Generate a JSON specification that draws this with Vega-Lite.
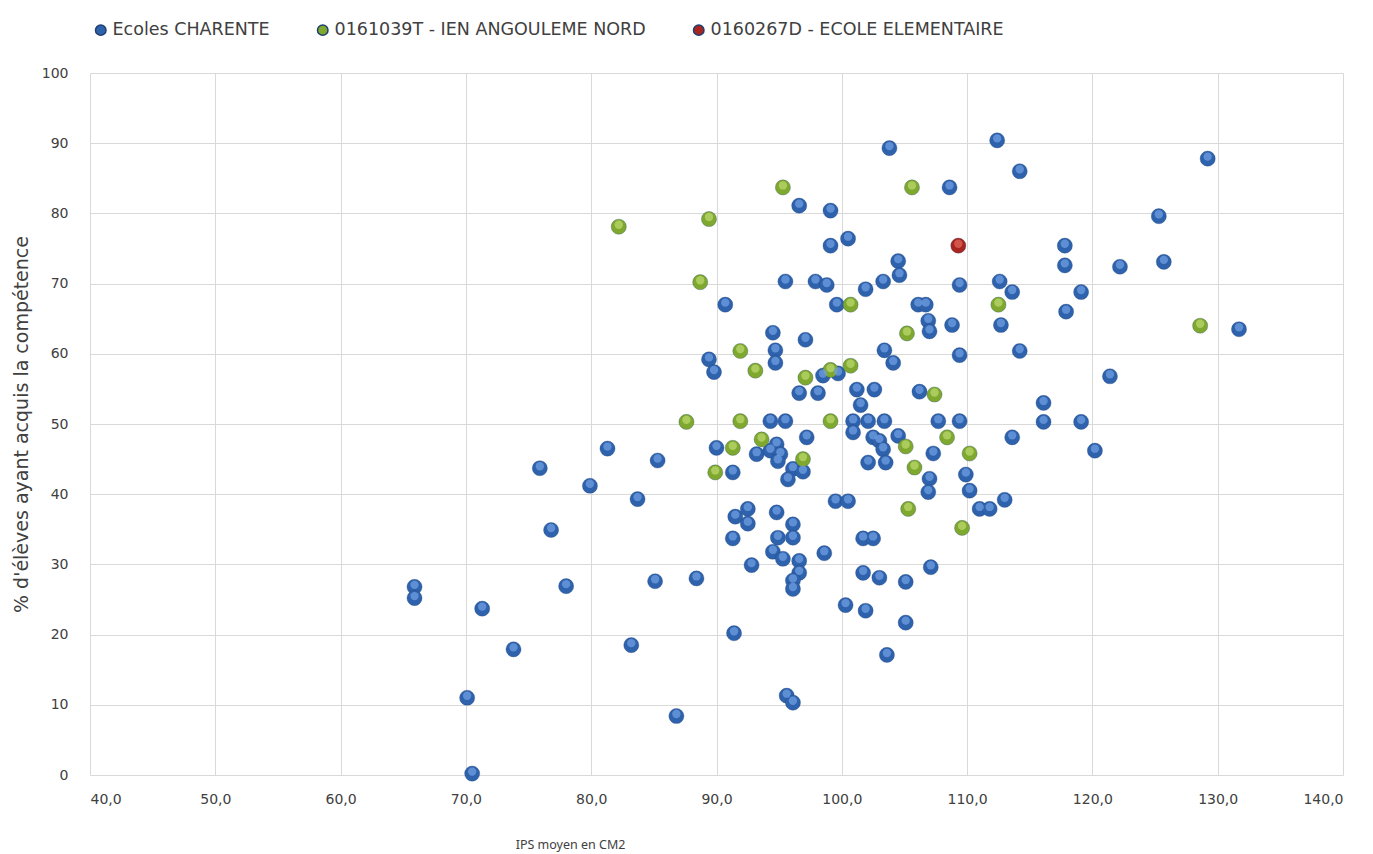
{
  "$schema": "https://vega.github.io/schema/vega-lite/v6.json",
  "background": "#ffffff",
  "autosize": "none",
  "padding": {"left": 90, "top": 73, "right": 30, "bottom": 79},
  "width": 1253,
  "height": 702,
  "data": {
    "values": [
      {"ips": 65.9, "pct": 26.8, "serie": "Ecoles CHARENTE"},
      {"ips": 65.9, "pct": 25.2, "serie": "Ecoles CHARENTE"},
      {"ips": 70.1, "pct": 11.0, "serie": "Ecoles CHARENTE"},
      {"ips": 70.5, "pct": 0.2, "serie": "Ecoles CHARENTE"},
      {"ips": 71.3, "pct": 23.7, "serie": "Ecoles CHARENTE"},
      {"ips": 73.8, "pct": 17.9, "serie": "Ecoles CHARENTE"},
      {"ips": 75.9, "pct": 43.7, "serie": "Ecoles CHARENTE"},
      {"ips": 76.8, "pct": 34.9, "serie": "Ecoles CHARENTE"},
      {"ips": 78.0, "pct": 26.9, "serie": "Ecoles CHARENTE"},
      {"ips": 79.9, "pct": 41.2, "serie": "Ecoles CHARENTE"},
      {"ips": 81.3, "pct": 46.5, "serie": "Ecoles CHARENTE"},
      {"ips": 83.2, "pct": 18.5, "serie": "Ecoles CHARENTE"},
      {"ips": 83.7, "pct": 39.3, "serie": "Ecoles CHARENTE"},
      {"ips": 85.3, "pct": 44.8, "serie": "Ecoles CHARENTE"},
      {"ips": 85.1, "pct": 27.6, "serie": "Ecoles CHARENTE"},
      {"ips": 86.8, "pct": 8.4, "serie": "Ecoles CHARENTE"},
      {"ips": 88.4, "pct": 28.0, "serie": "Ecoles CHARENTE"},
      {"ips": 89.4, "pct": 59.2, "serie": "Ecoles CHARENTE"},
      {"ips": 89.8, "pct": 57.4, "serie": "Ecoles CHARENTE"},
      {"ips": 90.0, "pct": 46.6, "serie": "Ecoles CHARENTE"},
      {"ips": 91.3, "pct": 43.1, "serie": "Ecoles CHARENTE"},
      {"ips": 90.7, "pct": 67.0, "serie": "Ecoles CHARENTE"},
      {"ips": 91.5, "pct": 36.8, "serie": "Ecoles CHARENTE"},
      {"ips": 92.5, "pct": 37.9, "serie": "Ecoles CHARENTE"},
      {"ips": 92.5, "pct": 35.8, "serie": "Ecoles CHARENTE"},
      {"ips": 91.3, "pct": 33.7, "serie": "Ecoles CHARENTE"},
      {"ips": 92.8, "pct": 29.9, "serie": "Ecoles CHARENTE"},
      {"ips": 91.4, "pct": 20.2, "serie": "Ecoles CHARENTE"},
      {"ips": 93.2, "pct": 45.7, "serie": "Ecoles CHARENTE"},
      {"ips": 94.3, "pct": 46.2, "serie": "Ecoles CHARENTE"},
      {"ips": 94.8, "pct": 47.1, "serie": "Ecoles CHARENTE"},
      {"ips": 95.1, "pct": 45.7, "serie": "Ecoles CHARENTE"},
      {"ips": 94.9, "pct": 44.7, "serie": "Ecoles CHARENTE"},
      {"ips": 94.3, "pct": 50.4, "serie": "Ecoles CHARENTE"},
      {"ips": 95.5, "pct": 50.4, "serie": "Ecoles CHARENTE"},
      {"ips": 97.2, "pct": 48.1, "serie": "Ecoles CHARENTE"},
      {"ips": 94.5, "pct": 63.0, "serie": "Ecoles CHARENTE"},
      {"ips": 94.7, "pct": 60.5, "serie": "Ecoles CHARENTE"},
      {"ips": 94.7, "pct": 58.7, "serie": "Ecoles CHARENTE"},
      {"ips": 97.1, "pct": 62.0, "serie": "Ecoles CHARENTE"},
      {"ips": 95.5, "pct": 70.3, "serie": "Ecoles CHARENTE"},
      {"ips": 97.9, "pct": 70.3, "serie": "Ecoles CHARENTE"},
      {"ips": 98.8, "pct": 69.8, "serie": "Ecoles CHARENTE"},
      {"ips": 101.9, "pct": 69.2, "serie": "Ecoles CHARENTE"},
      {"ips": 103.3, "pct": 70.3, "serie": "Ecoles CHARENTE"},
      {"ips": 96.6, "pct": 81.1, "serie": "Ecoles CHARENTE"},
      {"ips": 99.1, "pct": 80.4, "serie": "Ecoles CHARENTE"},
      {"ips": 99.1, "pct": 75.4, "serie": "Ecoles CHARENTE"},
      {"ips": 100.5, "pct": 76.4, "serie": "Ecoles CHARENTE"},
      {"ips": 103.8, "pct": 89.3, "serie": "Ecoles CHARENTE"},
      {"ips": 108.6, "pct": 83.7, "serie": "Ecoles CHARENTE"},
      {"ips": 104.5, "pct": 73.2, "serie": "Ecoles CHARENTE"},
      {"ips": 104.6, "pct": 71.2, "serie": "Ecoles CHARENTE"},
      {"ips": 99.6, "pct": 67.0, "serie": "Ecoles CHARENTE"},
      {"ips": 106.1, "pct": 67.0, "serie": "Ecoles CHARENTE"},
      {"ips": 106.7, "pct": 67.0, "serie": "Ecoles CHARENTE"},
      {"ips": 106.9, "pct": 64.7, "serie": "Ecoles CHARENTE"},
      {"ips": 107.0, "pct": 63.2, "serie": "Ecoles CHARENTE"},
      {"ips": 108.8, "pct": 64.1, "serie": "Ecoles CHARENTE"},
      {"ips": 109.4, "pct": 69.8, "serie": "Ecoles CHARENTE"},
      {"ips": 112.6, "pct": 70.3, "serie": "Ecoles CHARENTE"},
      {"ips": 113.6, "pct": 68.8, "serie": "Ecoles CHARENTE"},
      {"ips": 112.7, "pct": 64.1, "serie": "Ecoles CHARENTE"},
      {"ips": 103.4, "pct": 60.5, "serie": "Ecoles CHARENTE"},
      {"ips": 104.1, "pct": 58.7, "serie": "Ecoles CHARENTE"},
      {"ips": 109.4, "pct": 59.8, "serie": "Ecoles CHARENTE"},
      {"ips": 98.5, "pct": 56.9, "serie": "Ecoles CHARENTE"},
      {"ips": 99.7, "pct": 57.2, "serie": "Ecoles CHARENTE"},
      {"ips": 96.6, "pct": 54.4, "serie": "Ecoles CHARENTE"},
      {"ips": 98.1, "pct": 54.4, "serie": "Ecoles CHARENTE"},
      {"ips": 101.2, "pct": 54.9, "serie": "Ecoles CHARENTE"},
      {"ips": 102.6, "pct": 54.9, "serie": "Ecoles CHARENTE"},
      {"ips": 106.2, "pct": 54.6, "serie": "Ecoles CHARENTE"},
      {"ips": 101.5, "pct": 52.7, "serie": "Ecoles CHARENTE"},
      {"ips": 100.9, "pct": 50.4, "serie": "Ecoles CHARENTE"},
      {"ips": 102.1, "pct": 50.4, "serie": "Ecoles CHARENTE"},
      {"ips": 103.4, "pct": 50.4, "serie": "Ecoles CHARENTE"},
      {"ips": 100.9, "pct": 48.8, "serie": "Ecoles CHARENTE"},
      {"ips": 107.7, "pct": 50.4, "serie": "Ecoles CHARENTE"},
      {"ips": 109.4, "pct": 50.4, "serie": "Ecoles CHARENTE"},
      {"ips": 102.5, "pct": 48.1, "serie": "Ecoles CHARENTE"},
      {"ips": 103.0, "pct": 47.6, "serie": "Ecoles CHARENTE"},
      {"ips": 103.3, "pct": 46.4, "serie": "Ecoles CHARENTE"},
      {"ips": 104.5, "pct": 48.3, "serie": "Ecoles CHARENTE"},
      {"ips": 107.3, "pct": 45.8, "serie": "Ecoles CHARENTE"},
      {"ips": 102.1, "pct": 44.5, "serie": "Ecoles CHARENTE"},
      {"ips": 103.5, "pct": 44.5, "serie": "Ecoles CHARENTE"},
      {"ips": 96.1, "pct": 43.6, "serie": "Ecoles CHARENTE"},
      {"ips": 96.9, "pct": 43.2, "serie": "Ecoles CHARENTE"},
      {"ips": 95.7, "pct": 42.1, "serie": "Ecoles CHARENTE"},
      {"ips": 107.0, "pct": 42.2, "serie": "Ecoles CHARENTE"},
      {"ips": 106.9, "pct": 40.3, "serie": "Ecoles CHARENTE"},
      {"ips": 109.9, "pct": 42.8, "serie": "Ecoles CHARENTE"},
      {"ips": 110.2, "pct": 40.5, "serie": "Ecoles CHARENTE"},
      {"ips": 99.5, "pct": 39.0, "serie": "Ecoles CHARENTE"},
      {"ips": 100.5, "pct": 39.0, "serie": "Ecoles CHARENTE"},
      {"ips": 111.0, "pct": 37.9, "serie": "Ecoles CHARENTE"},
      {"ips": 111.8, "pct": 37.9, "serie": "Ecoles CHARENTE"},
      {"ips": 113.0, "pct": 39.2, "serie": "Ecoles CHARENTE"},
      {"ips": 94.8, "pct": 37.4, "serie": "Ecoles CHARENTE"},
      {"ips": 96.1, "pct": 35.7, "serie": "Ecoles CHARENTE"},
      {"ips": 94.9, "pct": 33.8, "serie": "Ecoles CHARENTE"},
      {"ips": 96.1, "pct": 33.8, "serie": "Ecoles CHARENTE"},
      {"ips": 94.5, "pct": 31.8, "serie": "Ecoles CHARENTE"},
      {"ips": 95.3, "pct": 30.8, "serie": "Ecoles CHARENTE"},
      {"ips": 96.6, "pct": 30.5, "serie": "Ecoles CHARENTE"},
      {"ips": 98.6, "pct": 31.6, "serie": "Ecoles CHARENTE"},
      {"ips": 101.7, "pct": 33.7, "serie": "Ecoles CHARENTE"},
      {"ips": 102.5, "pct": 33.7, "serie": "Ecoles CHARENTE"},
      {"ips": 96.6, "pct": 28.8, "serie": "Ecoles CHARENTE"},
      {"ips": 96.1, "pct": 27.7, "serie": "Ecoles CHARENTE"},
      {"ips": 96.1, "pct": 26.5, "serie": "Ecoles CHARENTE"},
      {"ips": 101.7, "pct": 28.8, "serie": "Ecoles CHARENTE"},
      {"ips": 103.0, "pct": 28.1, "serie": "Ecoles CHARENTE"},
      {"ips": 105.1, "pct": 27.5, "serie": "Ecoles CHARENTE"},
      {"ips": 107.1, "pct": 29.6, "serie": "Ecoles CHARENTE"},
      {"ips": 100.3, "pct": 24.2, "serie": "Ecoles CHARENTE"},
      {"ips": 101.9, "pct": 23.4, "serie": "Ecoles CHARENTE"},
      {"ips": 105.1, "pct": 21.7, "serie": "Ecoles CHARENTE"},
      {"ips": 103.6, "pct": 17.1, "serie": "Ecoles CHARENTE"},
      {"ips": 95.6, "pct": 11.3, "serie": "Ecoles CHARENTE"},
      {"ips": 96.1, "pct": 10.3, "serie": "Ecoles CHARENTE"},
      {"ips": 112.4, "pct": 90.4, "serie": "Ecoles CHARENTE"},
      {"ips": 114.2, "pct": 86.0, "serie": "Ecoles CHARENTE"},
      {"ips": 129.2, "pct": 87.8, "serie": "Ecoles CHARENTE"},
      {"ips": 125.3, "pct": 79.6, "serie": "Ecoles CHARENTE"},
      {"ips": 117.8, "pct": 75.4, "serie": "Ecoles CHARENTE"},
      {"ips": 117.8, "pct": 72.6, "serie": "Ecoles CHARENTE"},
      {"ips": 122.2, "pct": 72.4, "serie": "Ecoles CHARENTE"},
      {"ips": 125.7, "pct": 73.1, "serie": "Ecoles CHARENTE"},
      {"ips": 119.1, "pct": 68.8, "serie": "Ecoles CHARENTE"},
      {"ips": 117.9, "pct": 66.0, "serie": "Ecoles CHARENTE"},
      {"ips": 131.7, "pct": 63.5, "serie": "Ecoles CHARENTE"},
      {"ips": 114.2, "pct": 60.4, "serie": "Ecoles CHARENTE"},
      {"ips": 121.4, "pct": 56.8, "serie": "Ecoles CHARENTE"},
      {"ips": 116.1, "pct": 53.0, "serie": "Ecoles CHARENTE"},
      {"ips": 116.1, "pct": 50.3, "serie": "Ecoles CHARENTE"},
      {"ips": 119.1, "pct": 50.3, "serie": "Ecoles CHARENTE"},
      {"ips": 113.6, "pct": 48.1, "serie": "Ecoles CHARENTE"},
      {"ips": 120.2, "pct": 46.2, "serie": "Ecoles CHARENTE"},
      {"ips": 82.2, "pct": 78.1, "serie": "0161039T - IEN ANGOULEME NORD"},
      {"ips": 89.4, "pct": 79.2, "serie": "0161039T - IEN ANGOULEME NORD"},
      {"ips": 88.7, "pct": 70.2, "serie": "0161039T - IEN ANGOULEME NORD"},
      {"ips": 95.3, "pct": 83.7, "serie": "0161039T - IEN ANGOULEME NORD"},
      {"ips": 105.6, "pct": 83.7, "serie": "0161039T - IEN ANGOULEME NORD"},
      {"ips": 87.6, "pct": 50.3, "serie": "0161039T - IEN ANGOULEME NORD"},
      {"ips": 91.9, "pct": 50.4, "serie": "0161039T - IEN ANGOULEME NORD"},
      {"ips": 91.3, "pct": 46.6, "serie": "0161039T - IEN ANGOULEME NORD"},
      {"ips": 89.9, "pct": 43.1, "serie": "0161039T - IEN ANGOULEME NORD"},
      {"ips": 93.6, "pct": 47.8, "serie": "0161039T - IEN ANGOULEME NORD"},
      {"ips": 91.9, "pct": 60.4, "serie": "0161039T - IEN ANGOULEME NORD"},
      {"ips": 93.1, "pct": 57.6, "serie": "0161039T - IEN ANGOULEME NORD"},
      {"ips": 97.1, "pct": 56.6, "serie": "0161039T - IEN ANGOULEME NORD"},
      {"ips": 99.1, "pct": 57.7, "serie": "0161039T - IEN ANGOULEME NORD"},
      {"ips": 100.7, "pct": 58.3, "serie": "0161039T - IEN ANGOULEME NORD"},
      {"ips": 100.7, "pct": 67.0, "serie": "0161039T - IEN ANGOULEME NORD"},
      {"ips": 112.5, "pct": 67.0, "serie": "0161039T - IEN ANGOULEME NORD"},
      {"ips": 105.2, "pct": 62.9, "serie": "0161039T - IEN ANGOULEME NORD"},
      {"ips": 107.4, "pct": 54.2, "serie": "0161039T - IEN ANGOULEME NORD"},
      {"ips": 99.1, "pct": 50.4, "serie": "0161039T - IEN ANGOULEME NORD"},
      {"ips": 108.4, "pct": 48.1, "serie": "0161039T - IEN ANGOULEME NORD"},
      {"ips": 105.1, "pct": 46.8, "serie": "0161039T - IEN ANGOULEME NORD"},
      {"ips": 110.2, "pct": 45.8, "serie": "0161039T - IEN ANGOULEME NORD"},
      {"ips": 96.9, "pct": 45.0, "serie": "0161039T - IEN ANGOULEME NORD"},
      {"ips": 105.8, "pct": 43.8, "serie": "0161039T - IEN ANGOULEME NORD"},
      {"ips": 105.3, "pct": 37.9, "serie": "0161039T - IEN ANGOULEME NORD"},
      {"ips": 109.6, "pct": 35.2, "serie": "0161039T - IEN ANGOULEME NORD"},
      {"ips": 128.6, "pct": 64.0, "serie": "0161039T - IEN ANGOULEME NORD"},
      {"ips": 109.3, "pct": 75.4, "serie": "0160267D - ECOLE ELEMENTAIRE"}
    ]
  },
  "encoding": {
    "x": {
      "field": "ips",
      "type": "quantitative",
      "scale": {"domain": [40, 140], "nice": false, "zero": false},
      "axis": {
        "title": "IPS moyen en CM2",
        "values": [40, 50, 60, 70, 80, 90, 100, 110, 120, 130, 140],
        "labelExpr": "replace(format(datum.value, '.1f'), '.', ',')",
        "titleX": 480,
        "titleY": 63,
        "titleAnchor": "start",
        "titleAlign": "center",
        "titleFont": "Noto Sans",
        "titleFontSize": 12.5,
        "labelPadding": 17
      }
    },
    "y": {
      "field": "pct",
      "type": "quantitative",
      "scale": {"domain": [0, 100], "nice": false},
      "axis": {
        "title": "% d'élèves ayant acquis la compétence",
        "values": [0, 10, 20, 30, 40, 50, 60, 70, 80, 90, 100],
        "labelPadding": 22,
        "titlePadding": 10,
        "titleFont": "DejaVu Sans",
        "titleFontSize": 19
      }
    }
  },
  "layer": [
    {
      "mark": {"type": "point", "filled": true, "size": 230, "opacity": 1, "stroke": "#1f3f6e", "strokeWidth": 0.6, "strokeOpacity": 0.5},
      "encoding": {
        "color": {
          "field": "serie",
          "type": "nominal",
          "sort": null,
          "scale": {
            "domain": ["Ecoles CHARENTE", "0161039T - IEN ANGOULEME NORD", "0160267D - ECOLE ELEMENTAIRE"],
            "range": ["#2f62ad", "#7fa82f", "#a8261f"]
          },
          "legend": {
            "orient": "none",
            "direction": "horizontal",
            "legendX": 2,
            "legendY": -52,
            "title": null,
            "symbolType": "circle",
            "symbolSize": 110,
            "columnPadding": 44,
            "labelOffset": 3,
            "labelFont": "DejaVu Sans",
            "labelFontSize": 17.5,
            "labelLimit": 0,
            "labelColor": "#404040"
          }
        }
      }
    },
    {
      "mark": {"type": "point", "filled": true, "size": 70, "opacity": 0.75, "yOffset": -2},
      "encoding": {
        "fill": {
          "field": "serie",
          "type": "nominal",
          "scale": {
            "domain": ["Ecoles CHARENTE", "0161039T - IEN ANGOULEME NORD", "0160267D - ECOLE ELEMENTAIRE"],
            "range": ["#6f9de0", "#b9d86c", "#e0665c"]
          },
          "legend": null
        }
      }
    }
  ],
  "resolve": {"scale": {"color": "independent", "fill": "independent"}},
  "config": {
    "font": "Noto Sans",
    "view": {"stroke": null},
    "axis": {
      "grid": true,
      "gridColor": "#d9d9d9",
      "gridWidth": 1,
      "domain": false,
      "ticks": false,
      "labelFont": "DejaVu Sans",
      "labelFontSize": 14,
      "labelColor": "#404040",
      "titleFontWeight": "normal",
      "titleColor": "#404040"
    }
  }
}
